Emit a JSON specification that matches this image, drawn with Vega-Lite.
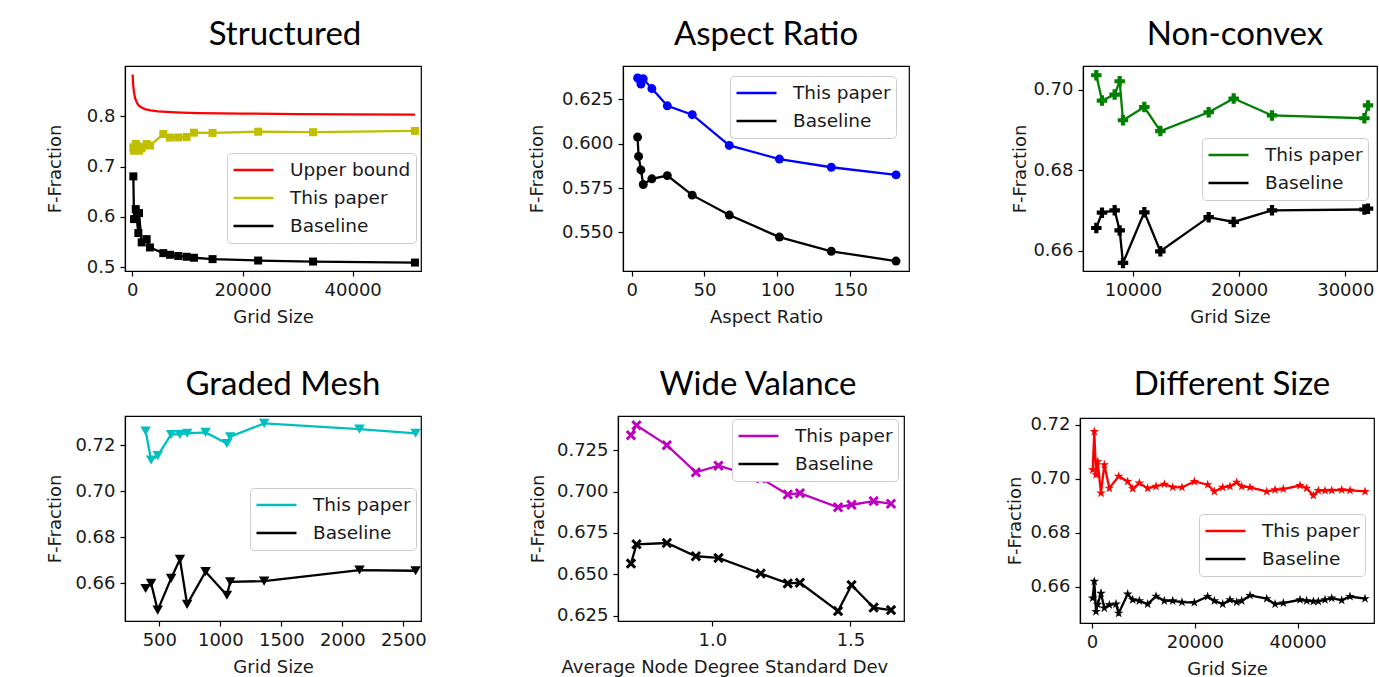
{
"$schema": "https://vega.github.io/schema/vega-lite/v6.json",
"padding": {"left": 46, "top": 18, "right": 0, "bottom": 0},
"background": "white",
"datasets": {
"p1": [
{"x":50,"y":0.883,"s":"Upper bound"},{"x":150,"y":0.862,"s":"Upper bound"},{"x":300,"y":0.848,"s":"Upper bound"},{"x":500,"y":0.836,"s":"Upper bound"},{"x":800,"y":0.828,"s":"Upper bound"},{"x":1100,"y":0.822,"s":"Upper bound"},{"x":1600,"y":0.818,"s":"Upper bound"},{"x":2300,"y":0.8145,"s":"Upper bound"},{"x":3300,"y":0.812,"s":"Upper bound"},{"x":4700,"y":0.81,"s":"Upper bound"},{"x":7000,"y":0.8085,"s":"Upper bound"},{"x":9000,"y":0.8075,"s":"Upper bound"},{"x":12000,"y":0.8065,"s":"Upper bound"},{"x":16000,"y":0.806,"s":"Upper bound"},{"x":20000,"y":0.8055,"s":"Upper bound"},{"x":30000,"y":0.8045,"s":"Upper bound"},{"x":40000,"y":0.804,"s":"Upper bound"},{"x":51300,"y":0.8035,"s":"Upper bound"},
{"x":180,"y":0.7383,"s":"This paper"},{"x":310,"y":0.7317,"s":"This paper"},{"x":620,"y":0.745,"s":"This paper"},{"x":1090,"y":0.74,"s":"This paper"},{"x":1210,"y":0.7317,"s":"This paper"},{"x":1700,"y":0.7364,"s":"This paper"},{"x":2600,"y":0.745,"s":"This paper"},{"x":3200,"y":0.742,"s":"This paper"},{"x":5620,"y":0.7648,"s":"This paper"},{"x":6830,"y":0.7578,"s":"This paper"},{"x":8340,"y":0.758,"s":"This paper"},{"x":9850,"y":0.759,"s":"This paper"},{"x":11180,"y":0.7675,"s":"This paper"},{"x":14560,"y":0.767,"s":"This paper"},{"x":22840,"y":0.7695,"s":"This paper"},{"x":32810,"y":0.7685,"s":"This paper"},{"x":51300,"y":0.771,"s":"This paper"},
{"x":180,"y":0.6807,"s":"Baseline"},{"x":310,"y":0.5958,"s":"Baseline"},{"x":620,"y":0.6157,"s":"Baseline"},{"x":1090,"y":0.568,"s":"Baseline"},{"x":1210,"y":0.6078,"s":"Baseline"},{"x":1700,"y":0.5495,"s":"Baseline"},{"x":2600,"y":0.556,"s":"Baseline"},{"x":3200,"y":0.5395,"s":"Baseline"},{"x":5620,"y":0.5282,"s":"Baseline"},{"x":6830,"y":0.5249,"s":"Baseline"},{"x":8340,"y":0.5225,"s":"Baseline"},{"x":9850,"y":0.521,"s":"Baseline"},{"x":11180,"y":0.519,"s":"Baseline"},{"x":14560,"y":0.5163,"s":"Baseline"},{"x":22840,"y":0.5135,"s":"Baseline"},{"x":32810,"y":0.5115,"s":"Baseline"},{"x":51300,"y":0.5095,"s":"Baseline"}
],
"p2": [
{"x":4.1,"y":0.637,"s":"This paper"},{"x":4.8,"y":0.6365,"s":"This paper"},{"x":6.4,"y":0.6335,"s":"This paper"},{"x":8.0,"y":0.6365,"s":"This paper"},{"x":13.9,"y":0.631,"s":"This paper"},{"x":24.5,"y":0.6213,"s":"This paper"},{"x":41.6,"y":0.6163,"s":"This paper"},{"x":67,"y":0.599,"s":"This paper"},{"x":101.4,"y":0.5913,"s":"This paper"},{"x":137,"y":0.5867,"s":"This paper"},{"x":181.4,"y":0.5824,"s":"This paper"},
{"x":4.1,"y":0.6037,"s":"Baseline"},{"x":4.8,"y":0.5928,"s":"Baseline"},{"x":6.4,"y":0.5852,"s":"Baseline"},{"x":8.0,"y":0.577,"s":"Baseline"},{"x":13.9,"y":0.5802,"s":"Baseline"},{"x":24.5,"y":0.582,"s":"Baseline"},{"x":41.6,"y":0.571,"s":"Baseline"},{"x":67,"y":0.5598,"s":"Baseline"},{"x":101.4,"y":0.5474,"s":"Baseline"},{"x":137,"y":0.5394,"s":"Baseline"},{"x":181.4,"y":0.5339,"s":"Baseline"}
],
"p3": [
{"x":6546,"y":0.7036,"s":"This paper"},{"x":7080,"y":0.6973,"s":"This paper"},{"x":8273,"y":0.6988,"s":"This paper"},{"x":8744,"y":0.7021,"s":"This paper"},{"x":9058,"y":0.6924,"s":"This paper"},{"x":11068,"y":0.6957,"s":"This paper"},{"x":12575,"y":0.6897,"s":"This paper"},{"x":17128,"y":0.6944,"s":"This paper"},{"x":19483,"y":0.6978,"s":"This paper"},{"x":23094,"y":0.6936,"s":"This paper"},{"x":31792,"y":0.6929,"s":"This paper"},{"x":32137,"y":0.6961,"s":"This paper"},
{"x":6546,"y":0.6656,"s":"Baseline"},{"x":7080,"y":0.6694,"s":"Baseline"},{"x":8273,"y":0.67,"s":"Baseline"},{"x":8744,"y":0.665,"s":"Baseline"},{"x":9058,"y":0.6569,"s":"Baseline"},{"x":11068,"y":0.6695,"s":"Baseline"},{"x":12575,"y":0.6598,"s":"Baseline"},{"x":17128,"y":0.6683,"s":"Baseline"},{"x":19483,"y":0.6671,"s":"Baseline"},{"x":23094,"y":0.67,"s":"Baseline"},{"x":31792,"y":0.6702,"s":"Baseline"},{"x":32137,"y":0.6704,"s":"Baseline"}
],
"p4": [
{"x":388,"y":0.7261,"s":"This paper"},{"x":433,"y":0.7135,"s":"This paper"},{"x":487,"y":0.7154,"s":"This paper"},{"x":597,"y":0.7246,"s":"This paper"},{"x":669,"y":0.7246,"s":"This paper"},{"x":728,"y":0.7251,"s":"This paper"},{"x":879,"y":0.7255,"s":"This paper"},{"x":1054,"y":0.7207,"s":"This paper"},{"x":1081,"y":0.7236,"s":"This paper"},{"x":1359,"y":0.7294,"s":"This paper"},{"x":2140,"y":0.7269,"s":"This paper"},{"x":2600,"y":0.7251,"s":"This paper"},
{"x":388,"y":0.6578,"s":"Baseline"},{"x":433,"y":0.66,"s":"Baseline"},{"x":487,"y":0.6484,"s":"Baseline"},{"x":597,"y":0.6622,"s":"Baseline"},{"x":669,"y":0.6705,"s":"Baseline"},{"x":728,"y":0.6509,"s":"Baseline"},{"x":879,"y":0.6651,"s":"Baseline"},{"x":1054,"y":0.6549,"s":"Baseline"},{"x":1081,"y":0.6607,"s":"Baseline"},{"x":1359,"y":0.661,"s":"Baseline"},{"x":2140,"y":0.6658,"s":"Baseline"},{"x":2600,"y":0.6655,"s":"Baseline"}
],
"p5": [
{"x":0.705,"y":0.734,"s":"This paper"},{"x":0.725,"y":0.74,"s":"This paper"},{"x":0.835,"y":0.728,"s":"This paper"},{"x":0.94,"y":0.7116,"s":"This paper"},{"x":1.022,"y":0.7156,"s":"This paper"},{"x":1.175,"y":0.708,"s":"This paper"},{"x":1.273,"y":0.6982,"s":"This paper"},{"x":1.317,"y":0.699,"s":"This paper"},{"x":1.455,"y":0.6905,"s":"This paper"},{"x":1.504,"y":0.692,"s":"This paper"},{"x":1.584,"y":0.6942,"s":"This paper"},{"x":1.647,"y":0.6926,"s":"This paper"},
{"x":0.705,"y":0.6565,"s":"Baseline"},{"x":0.725,"y":0.6681,"s":"Baseline"},{"x":0.835,"y":0.6689,"s":"Baseline"},{"x":0.94,"y":0.6609,"s":"Baseline"},{"x":1.022,"y":0.6599,"s":"Baseline"},{"x":1.175,"y":0.6505,"s":"Baseline"},{"x":1.273,"y":0.6445,"s":"Baseline"},{"x":1.317,"y":0.6449,"s":"Baseline"},{"x":1.455,"y":0.6278,"s":"Baseline"},{"x":1.504,"y":0.6435,"s":"Baseline"},{"x":1.584,"y":0.6299,"s":"Baseline"},{"x":1.647,"y":0.6284,"s":"Baseline"}
],
"p6": [
{"x":130,"y":0.7033,"s":"This paper"},{"x":450,"y":0.7175,"s":"This paper"},{"x":780,"y":0.7015,"s":"This paper"},{"x":1100,"y":0.7064,"s":"This paper"},{"x":1750,"y":0.6947,"s":"This paper"},{"x":2400,"y":0.7052,"s":"This paper"},{"x":3370,"y":0.6965,"s":"This paper"},{"x":5190,"y":0.7009,"s":"This paper"},{"x":6940,"y":0.699,"s":"This paper"},{"x":7910,"y":0.6963,"s":"This paper"},{"x":9200,"y":0.6984,"s":"This paper"},{"x":10830,"y":0.6965,"s":"This paper"},{"x":12450,"y":0.6972,"s":"This paper"},{"x":14070,"y":0.698,"s":"This paper"},{"x":15700,"y":0.6969,"s":"This paper"},{"x":17500,"y":0.6968,"s":"This paper"},{"x":19900,"y":0.699,"s":"This paper"},{"x":22500,"y":0.6978,"s":"This paper"},{"x":23800,"y":0.6953,"s":"This paper"},{"x":25420,"y":0.6968,"s":"This paper"},{"x":26840,"y":0.6972,"s":"This paper"},{"x":28140,"y":0.6987,"s":"This paper"},{"x":29120,"y":0.6972,"s":"This paper"},{"x":30730,"y":0.6968,"s":"This paper"},{"x":33980,"y":0.6953,"s":"This paper"},{"x":35600,"y":0.6959,"s":"This paper"},{"x":37210,"y":0.6962,"s":"This paper"},{"x":40460,"y":0.6975,"s":"This paper"},{"x":41760,"y":0.6965,"s":"This paper"},{"x":43050,"y":0.6938,"s":"This paper"},{"x":44020,"y":0.6956,"s":"This paper"},{"x":45320,"y":0.6956,"s":"This paper"},{"x":46620,"y":0.6957,"s":"This paper"},{"x":48570,"y":0.6959,"s":"This paper"},{"x":50180,"y":0.6957,"s":"This paper"},{"x":53100,"y":0.6953,"s":"This paper"},
{"x":130,"y":0.6558,"s":"Baseline"},{"x":450,"y":0.662,"s":"Baseline"},{"x":780,"y":0.6508,"s":"Baseline"},{"x":1100,"y":0.6535,"s":"Baseline"},{"x":1750,"y":0.6576,"s":"Baseline"},{"x":2400,"y":0.6521,"s":"Baseline"},{"x":3370,"y":0.6533,"s":"Baseline"},{"x":4670,"y":0.6536,"s":"Baseline"},{"x":5190,"y":0.6502,"s":"Baseline"},{"x":6940,"y":0.6573,"s":"Baseline"},{"x":7910,"y":0.6552,"s":"Baseline"},{"x":9200,"y":0.6548,"s":"Baseline"},{"x":10830,"y":0.6536,"s":"Baseline"},{"x":12450,"y":0.6565,"s":"Baseline"},{"x":14070,"y":0.6548,"s":"Baseline"},{"x":15700,"y":0.6548,"s":"Baseline"},{"x":17500,"y":0.6543,"s":"Baseline"},{"x":19900,"y":0.6542,"s":"Baseline"},{"x":22500,"y":0.6564,"s":"Baseline"},{"x":23800,"y":0.6548,"s":"Baseline"},{"x":25420,"y":0.6536,"s":"Baseline"},{"x":26840,"y":0.6552,"s":"Baseline"},{"x":28140,"y":0.6543,"s":"Baseline"},{"x":29120,"y":0.6548,"s":"Baseline"},{"x":30730,"y":0.6568,"s":"Baseline"},{"x":33980,"y":0.6556,"s":"Baseline"},{"x":35600,"y":0.6536,"s":"Baseline"},{"x":37210,"y":0.654,"s":"Baseline"},{"x":40460,"y":0.6552,"s":"Baseline"},{"x":41760,"y":0.6548,"s":"Baseline"},{"x":43050,"y":0.6546,"s":"Baseline"},{"x":44020,"y":0.6546,"s":"Baseline"},{"x":45320,"y":0.6552,"s":"Baseline"},{"x":46620,"y":0.6558,"s":"Baseline"},{"x":48570,"y":0.655,"s":"Baseline"},{"x":50180,"y":0.6564,"s":"Baseline"},{"x":53100,"y":0.6556,"s":"Baseline"}
]
},
"concat": [
{"title": {"text": "Structured", "dx": 12}, "width": 296, "height": 205, "data": {"name": "p1"},
 "encoding": {
  "x": {"field": "x", "type": "quantitative", "scale": {"domain": [-1331, 52400], "nice": false, "zero": false}, "axis": {"title": "Grid Size", "values": [0, 20000, 40000], "format": "d"}},
  "y": {"field": "y", "type": "quantitative", "scale": {"domain": [0.4927, 0.9], "nice": false, "zero": false}, "axis": {"title": "F-Fraction", "values": [0.5, 0.6, 0.7, 0.8], "format": ".1f", "titlePadding": 21.4}}
 },
 "layer": [
  {"mark": {"type": "line", "strokeWidth": 2.3}, "encoding": {"color": {"field": "s", "type": "nominal", "scale": {"domain": ["Upper bound", "This paper", "Baseline"], "range": ["#ff0000", "#bfbf00", "#000000"]}, "legend": {"orient": "none", "legendX": 102, "legendY": 87}}}},
  {"transform": [{"filter": "datum.s !== 'Upper bound'"}], "mark": {"type": "point", "shape": "square", "filled": true, "opacity": 1, "size": 64}, "encoding": {"color": {"field": "s", "type": "nominal", "legend": null}}}
 ]
},
{"title": "Aspect Ratio", "width": 286, "height": 205, "data": {"name": "p2"},
 "encoding": {
  "x": {"field": "x", "type": "quantitative", "scale": {"domain": [-5.9, 190.3], "nice": false, "zero": false}, "axis": {"title": "Aspect Ratio", "values": [0, 50, 100, 150], "format": "d"}},
  "y": {"field": "y", "type": "quantitative", "scale": {"domain": [0.5283, 0.6437], "nice": false, "zero": false}, "axis": {"title": "F-Fraction", "values": [0.55, 0.575, 0.6, 0.625], "format": ".3f", "titlePadding": 14.5}}
 },
 "layer": [
  {"mark": {"type": "line", "strokeWidth": 2.3}, "encoding": {"color": {"field": "s", "type": "nominal", "scale": {"domain": ["This paper", "Baseline"], "range": ["#0000ff", "#000000"]}, "legend": {"orient": "none", "legendX": 107, "legendY": 10}}}},
  {"mark": {"type": "point", "shape": "circle", "filled": true, "opacity": 1, "size": 80}, "encoding": {"color": {"field": "s", "type": "nominal", "legend": null}}}
 ]
},
{"title": {"text": "Non-convex", "dx": 5}, "width": 294, "height": 205, "data": {"name": "p3"},
 "encoding": {
  "x": {"field": "x", "type": "quantitative", "scale": {"domain": [5291, 32983], "nice": false, "zero": false}, "axis": {"title": "Grid Size", "values": [10000, 20000, 30000], "format": "d"}},
  "y": {"field": "y", "type": "quantitative", "scale": {"domain": [0.6549, 0.7059], "nice": false, "zero": false}, "axis": {"title": "F-Fraction", "values": [0.66, 0.68, 0.70], "format": ".2f", "titlePadding": 3}}
 },
 "layer": [
  {"mark": {"type": "line", "strokeWidth": 2.3}, "encoding": {"color": {"field": "s", "type": "nominal", "scale": {"domain": ["This paper", "Baseline"], "range": ["#008000", "#000000"]}, "legend": {"orient": "none", "legendX": 119, "legendY": 72}}}},
  {"mark": {"type": "point", "shape": "cross", "filled": true, "opacity": 1, "size": 110}, "encoding": {"color": {"field": "s", "type": "nominal", "legend": null}}}
 ]
},
{"title": {"text": "Graded Mesh", "dx": 10}, "width": 296, "height": 205, "data": {"name": "p4"},
 "encoding": {
  "x": {"field": "x", "type": "quantitative", "scale": {"domain": [219, 2644], "nice": false, "zero": false}, "axis": {"title": "Grid Size", "values": [500, 1000, 1500, 2000, 2500], "format": "d"}},
  "y": {"field": "y", "type": "quantitative", "scale": {"domain": [0.6437, 0.7326], "nice": false, "zero": false}, "axis": {"title": "F-Fraction", "values": [0.66, 0.68, 0.70, 0.72], "format": ".2f", "titlePadding": 10}}
 },
 "layer": [
  {"mark": {"type": "line", "strokeWidth": 2.3}, "encoding": {"color": {"field": "s", "type": "nominal", "scale": {"domain": ["This paper", "Baseline"], "range": ["#00bfbf", "#000000"]}, "legend": {"orient": "none", "legendX": 125, "legendY": 72}}}},
  {"mark": {"type": "point", "shape": "triangle-down", "filled": true, "opacity": 1, "size": 110}, "encoding": {"color": {"field": "s", "type": "nominal", "legend": null}}}
 ]
},
{"title": {"text": "Wide Valance", "dx": -3}, "width": 286, "height": 205, "data": {"name": "p5"},
 "encoding": {
  "x": {"field": "x", "type": "quantitative", "scale": {"domain": [0.658, 1.694], "nice": false, "zero": false}, "axis": {"title": "Average Node Degree Standard Dev", "values": [1.0, 1.5], "format": ".1f", "titleX": -57, "titleAlign": "left", "titleAnchor": "start"}},
  "y": {"field": "y", "type": "quantitative", "scale": {"domain": [0.6218, 0.7456], "nice": false, "zero": false}, "axis": {"title": "F-Fraction", "values": [0.625, 0.65, 0.675, 0.7, 0.725], "format": ".3f", "titlePadding": 9.2}}
 },
 "layer": [
  {"mark": {"type": "line", "strokeWidth": 2.3}, "encoding": {"color": {"field": "s", "type": "nominal", "scale": {"domain": ["This paper", "Baseline"], "range": ["#bf00bf", "#000000"]}, "legend": {"orient": "none", "legendX": 114, "legendY": 3}}}},
  {"mark": {"type": "point", "shape": "M-1,-0.6L-0.6,-1L0,-0.4L0.6,-1L1,-0.6L0.4,0L1,0.6L0.6,1L0,0.4L-0.6,1L-1,0.6L-0.4,0Z", "filled": true, "opacity": 1, "size": 110}, "encoding": {"color": {"field": "s", "type": "nominal", "legend": null}}}
 ]
},
{"title": {"text": "Different Size", "dx": 5}, "width": 294, "height": 205, "data": {"name": "p6"},
 "encoding": {
  "x": {"field": "x", "type": "quantitative", "scale": {"domain": [-2334, 54849], "nice": false, "zero": false}, "axis": {"title": "Grid Size", "values": [0, 20000, 40000], "format": "d"}},
  "y": {"field": "y", "type": "quantitative", "scale": {"domain": [0.6466, 0.7225], "nice": false, "zero": false}, "axis": {"title": "F-Fraction", "values": [0.66, 0.68, 0.70, 0.72], "format": ".2f", "titlePadding": 5}}
 },
 "layer": [
  {"mark": {"type": "line", "strokeWidth": 2.3}, "encoding": {"color": {"field": "s", "type": "nominal", "scale": {"domain": ["This paper", "Baseline"], "range": ["#ff0000", "#000000"]}, "legend": {"orient": "none", "legendX": 119, "legendY": 96}}}},
  {"mark": {"type": "point", "shape": "M0,-1L0.225,-0.309L0.951,-0.309L0.363,0.118L0.588,0.809L0,0.382L-0.588,0.809L-0.363,0.118L-0.951,-0.309L-0.225,-0.309Z", "filled": true, "opacity": 1, "size": 100}, "encoding": {"color": {"field": "s", "type": "nominal", "legend": null}}}
 ]
}
],
"columns": 3,
"align": "none",
"spacing": {"row": 41, "column": 101},
"resolve": {"scale": {"color": "independent"}, "legend": {"color": "independent"}},
"config": {
 "view": {"stroke": "#000000", "strokeWidth": 1.2},
 "title": {"font": "Lato", "fontSize": 33, "fontWeight": "normal", "color": "#000000", "offset": 14, "anchor": "middle"},
 "axis": {"grid": false, "domainColor": "#000000", "domainWidth": 1.2, "tickColor": "#000000", "tickWidth": 1.2, "tickSize": 5, "labelPadding": 5, "labelFont": "DejaVu Sans", "labelFontSize": 18, "labelColor": "#1a1a1a", "labelFlush": false, "labelOverlap": false, "titleFont": "DejaVu Sans", "titleFontSize": 18, "titleFontWeight": "normal", "titleColor": "#1a1a1a"},
 "axisX": {"titlePadding": 9},
 "legend": {"title": null, "symbolType": "stroke", "symbolSize": 1600, "symbolStrokeWidth": 2.5, "clipHeight": 24, "labelFont": "DejaVu Sans", "labelFontSize": 18.5, "labelColor": "#1a1a1a", "labelOffset": 15, "padding": 5, "rowPadding": 4, "cornerRadius": 4, "strokeColor": "#cccccc", "fillColor": "#ffffff"}
}
}
